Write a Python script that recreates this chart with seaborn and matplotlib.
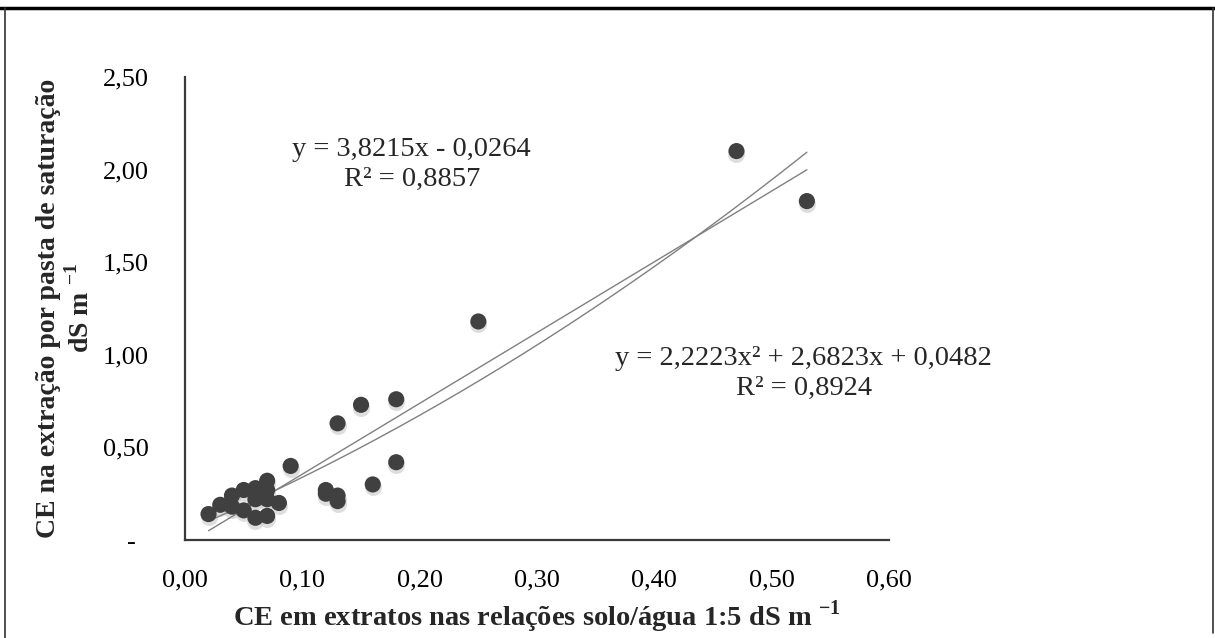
import numpy as np
import pandas as pd
import matplotlib
matplotlib.use('Agg')
import matplotlib.pyplot as plt
import matplotlib.transforms as mtransforms
from matplotlib.lines import Line2D
import seaborn as sns

# Data
ce_1_5 = [0.02, 0.03, 0.04, 0.04, 0.05, 0.05, 0.06, 0.06, 0.06, 0.07, 0.07, 0.07, 0.07,
          0.08, 0.09, 0.12, 0.12, 0.13, 0.13, 0.13, 0.15, 0.16, 0.18, 0.18, 0.25, 0.47, 0.53]
ce_pasta = [0.14, 0.19, 0.24, 0.18, 0.27, 0.16, 0.28, 0.22, 0.12, 0.32, 0.27, 0.22, 0.13,
            0.20, 0.40, 0.27, 0.25, 0.24, 0.21, 0.63, 0.73, 0.30, 0.76, 0.42, 1.18, 2.10, 1.83]

lin_coef = [3.8215, -0.0264]
quad_coef = [2.2223, 2.6823, 0.0482]

x_ticks = [0.0, 0.1, 0.2, 0.3, 0.4, 0.5, 0.6]
x_labels = ['0,00', '0,10', '0,20', '0,30', '0,40', '0,50', '0,60']
y_ticks = [0.0, 0.5, 1.0, 1.5, 2.0, 2.5]
y_labels = ['-  ', '0,50', '1,00', '1,50', '2,00', '2,50']

df = pd.DataFrame({'x': ce_1_5, 'y': ce_pasta})

# Trendlines from the printed equations
xs = np.linspace(min(ce_1_5), max(ce_1_5), 200)
trend = pd.DataFrame({'x': xs,
                      'lin': np.polyval(lin_coef, xs),
                      'quad': np.polyval(quad_coef, xs)})

sns.set_style('white')
plt.rcParams['font.family'] = ['Liberation Serif', 'DejaVu Serif']
plt.rcParams['mathtext.fontset'] = 'custom'
plt.rcParams['mathtext.rm'] = 'Liberation Serif'
plt.rcParams['mathtext.bf'] = 'Liberation Serif:bold'

fig = plt.figure(figsize=(12.15, 6.38), dpi=100)
ax = fig.add_axes([0.1523, 0.1536, 0.5794, 0.7257])

# soft shadow under the markers
shadow = mtransforms.offset_copy(ax.transData, fig=fig, x=0, y=-3, units='dots')
ax.scatter(df['x'], df['y'], s=150, color='#c8c8c8', alpha=0.6, linewidths=0,
           transform=shadow, zorder=1)
sns.scatterplot(data=df, x='x', y='y', ax=ax, s=135, color='#404040',
                edgecolor='none', zorder=3)
sns.lineplot(data=trend, x='x', y='lin', ax=ax, color='#808080', lw=1.0, zorder=2)
sns.lineplot(data=trend, x='x', y='quad', ax=ax, color='#808080', lw=1.0, zorder=2)

ax.set_xlim(0, 0.6)
ax.set_ylim(0, 2.5)
ax.set_xticks(x_ticks)
ax.set_xticklabels(x_labels)
ax.set_yticks(y_ticks)
ax.set_yticklabels(y_labels)
ax.tick_params(axis='x', length=0, pad=21, labelsize=19, colors='black')
ax.tick_params(axis='y', length=0, pad=26, labelsize=19, colors='black')

for side in ['top', 'right']:
    ax.spines[side].set_visible(False)
for side in ['left', 'bottom']:
    ax.spines[side].set_color('#3a3a3a')
    ax.spines[side].set_linewidth(1.6)

ax.set_xlabel(r'CE em extratos nas relações solo/água 1:5 dS m $^{\mathbf{-1}}$',
              fontsize=20.5, fontweight='bold', labelpad=5)
ax.set_ylabel('CE na extração por pasta de saturação\n' + r'dS m $^{\mathbf{-1}}$',
              fontsize=20, fontweight='bold', labelpad=6, linespacing=1.2)

ax.text(0.322, 0.812, 'y = 3,8215x - 0,0264\nR² = 0,8857', transform=ax.transAxes,
        ha='center', va='center', multialignment='center', fontsize=20.5, linespacing=1.25)
ax.text(0.879, 0.359, 'y = 2,2223x² + 2,6823x + 0,0482\nR² = 0,8924', transform=ax.transAxes,
        ha='center', va='center', multialignment='center', fontsize=20.5, linespacing=1.25)

# outer frame of the figure
fig.add_artist(Line2D([0, 1], [0.987, 0.987], transform=fig.transFigure, color='black', lw=2.5))
fig.add_artist(Line2D([0.004, 0.004], [0, 0.987], transform=fig.transFigure, color='#333333', lw=1.2))
fig.add_artist(Line2D([0.998, 0.998], [0.008, 0.987], transform=fig.transFigure, color='#333333', lw=1.2))

fig.savefig('out.png', dpi=100)
